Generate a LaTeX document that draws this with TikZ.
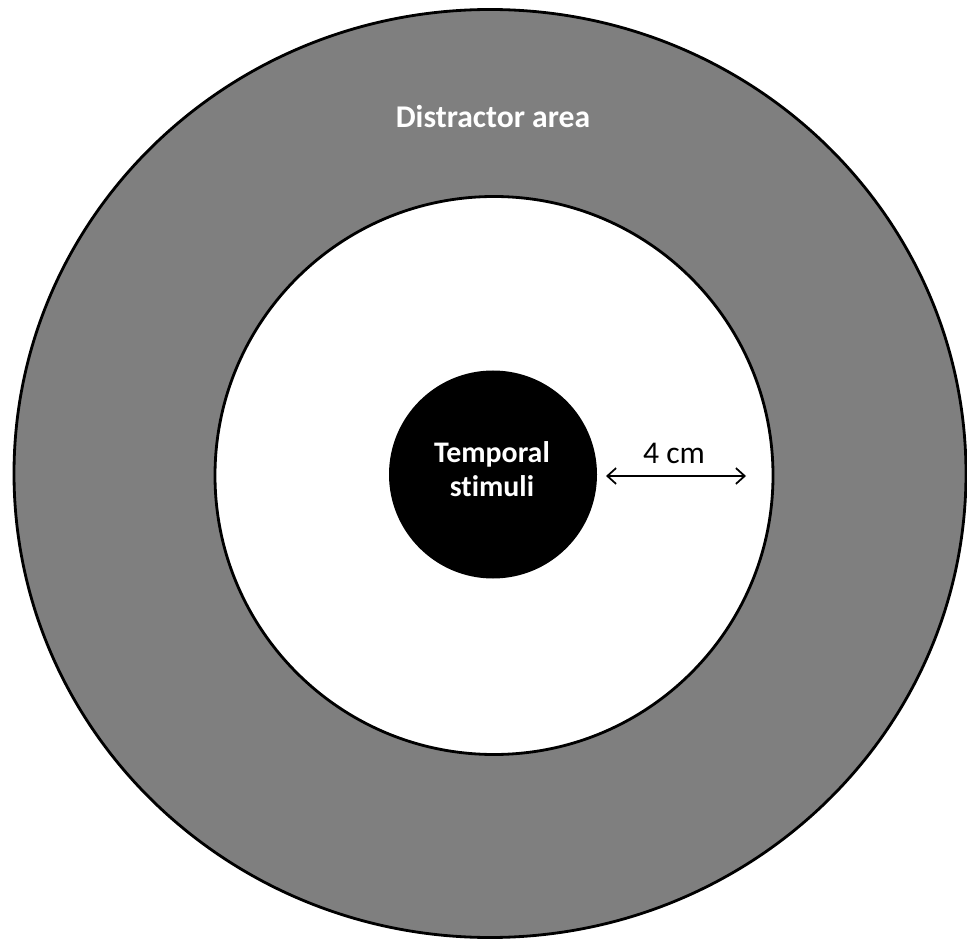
\documentclass[tikz,border=0pt]{standalone}
\usepackage{fontspec}
\setmainfont{Carlito}[Ligatures=NoCommon]
\usetikzlibrary{arrows.meta}
\definecolor{ringgray}{RGB}{127,127,127}
\tikzset{
  ring/.style={draw=black, line width=1.6pt},
  lbl/.style={inner sep=0pt, anchor=base, font=\bfseries\fontsize{17}{20}\selectfont},
  dist/.style={{Straight Barb[length=5pt,width=9pt]}-{Straight Barb[length=5pt,width=9pt]}, line width=1pt}
}
\begin{document}
\begin{tikzpicture}[x=0.02cm, y=-0.02cm]
\useasboundingbox (0,0) rectangle (967,942);
\fill[white] (0,0) rectangle (967,942);
% outer distractor ring
\draw[ring, fill=ringgray] (490,473.5) ellipse [x radius=476, y radius=464];
% inner white area
\draw[ring, fill=white] (494,475.5) circle [radius=279];
% central stimulus
\fill[black] (493,474.5) circle [radius=104];
\node[lbl, text=white, font=\bfseries\fontsize{18}{20}\selectfont] (distr) at (493,128) {Distractor area};
\node[lbl, text=white] (temp) at (492,462) {Temporal};
\node[lbl, text=white] (stim) at (492,497) {stimuli};
\node[lbl, font=\fontsize{18}{20}\selectfont] (four) at (674,463) {4 cm};
\coordinate (a) at (606,476);
\coordinate (b) at (746,476);
\draw[dist] (a) -- (b);
\end{tikzpicture}
\end{document}
